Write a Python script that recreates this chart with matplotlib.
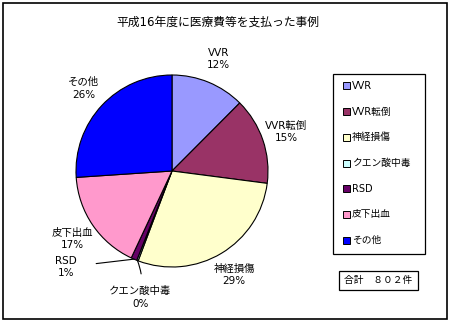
import matplotlib
matplotlib.use("Agg")
import matplotlib.pyplot as plt
from matplotlib.patches import Rectangle
import numpy as np

plt.rcParams['font.family'] = ['DejaVu Sans', 'Noto Sans CJK JP']

title = "平成16年度に医療費等を支払った事例"
categories = ["VVR", "VVR転倒", "神経損傷", "クエン酸中毒", "RSD", "皮下出血", "その他"]
counts = [100, 117, 230, 2, 8, 136, 209]
colors = ["#9999FF", "#993366", "#FFFFCC", "#CCFFFF", "#660066", "#FF99CC", "#0000FF"]
total_label = "合計　８０２件"

W, H = 452, 323
fig = plt.figure(figsize=(W / 100, H / 100), dpi=100)
ax = fig.add_axes([0, 0, 1, 1])

cx, cy, r = 172, H - 171, 96
wedges, _ = ax.pie(counts, colors=colors, startangle=90, counterclock=False,
                   center=(cx, cy), radius=r,
                   wedgeprops=dict(edgecolor="black", linewidth=0.8))
ax.set_xlim(0, W)
ax.set_ylim(0, H)
ax.set_aspect('auto')
ax.axis('off')

total = sum(counts)
fs = 7.5
for w, name, c in zip(wedges, categories, counts):
    pct = f"{round(100 * c / total):d}%"
    mid = np.deg2rad((w.theta1 + w.theta2) / 2)
    txt = f"{name}\n{pct}"
    if name == "クエン酸中毒":
        ex, ey = cx + r * np.cos(mid), cy + r * np.sin(mid)
        tx, ty = ex + 3, ey - 37
        ax.annotate(txt, xy=(ex, ey), xytext=(tx, ty), ha='center', va='center',
                    fontsize=fs, linespacing=1.3,
                    arrowprops=dict(arrowstyle='-', color='black', lw=0.8,
                                    shrinkA=7, shrinkB=0,
                                    connectionstyle="arc3,rad=0.15"))
    elif name == "RSD":
        ex, ey = cx + r * np.cos(mid), cy + r * np.sin(mid)
        tx, ty = ex - 68, ey - 8
        ax.annotate(txt, xy=(ex, ey), xytext=(tx, ty), ha='center', va='center',
                    fontsize=fs, linespacing=1.3,
                    arrowprops=dict(arrowstyle='-', color='black', lw=0.8,
                                    shrinkA=12, shrinkB=0))
    else:
        d = 1.26 * r
        ax.text(cx + d * np.cos(mid), cy + d * np.sin(mid), txt,
                ha='center', va='center', fontsize=fs, linespacing=1.3)

# title
fig.text(218 / W, 1 - 22 / H, title, ha='center', va='center', fontsize=8.5)

# outer border
ax.add_patch(Rectangle((3, H - 319), 444, 316, fill=False, edgecolor='black', lw=1.2))

# legend box
lx0, lx1, ly0, ly1 = 333, 425, 74, 254
ax.add_patch(Rectangle((lx0, H - ly1), lx1 - lx0, ly1 - ly0, fill=False,
                       edgecolor='black', lw=0.9))
n = len(categories)
step = (ly1 - ly0) / n
for i, (name, col) in enumerate(zip(categories, colors)):
    yy = ly0 + step * (i + 0.5) - 1
    ax.add_patch(Rectangle((343, H - yy - 3.5), 7, 7, facecolor=col,
                           edgecolor='black', lw=0.7))
    ax.text(352, H - yy, name, ha='left', va='center', fontsize=7)

# total box
ax.add_patch(Rectangle((339, H - 290), 79, 19, fill=False, edgecolor='black', lw=0.9))
ax.text(378.5, H - 280.5, total_label, ha='center', va='center', fontsize=7)

fig.savefig("out.png", dpi=100, facecolor='white')
